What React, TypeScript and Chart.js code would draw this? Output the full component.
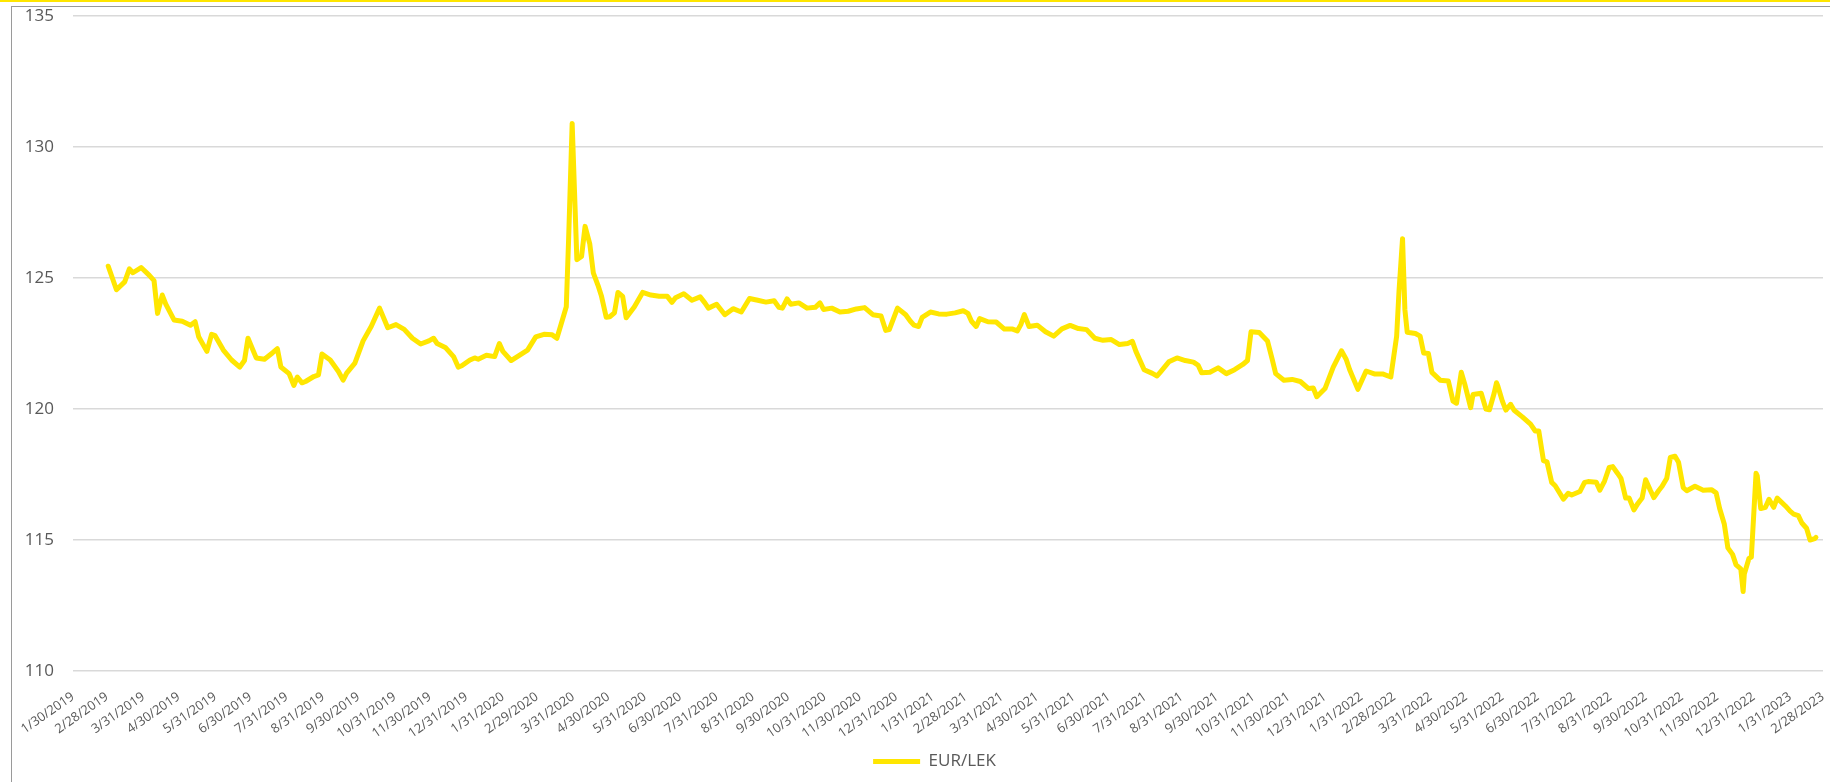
import React, { useEffect, useRef } from "react";
import { Chart, registerables } from "chart.js";

Chart.register(...registerables);

const seriesName = "EUR/LEK";

const tickLabels = [
  "1/30/2019", "2/28/2019", "3/31/2019", "4/30/2019", "5/31/2019", "6/30/2019",
  "7/31/2019", "8/31/2019", "9/30/2019", "10/31/2019", "11/30/2019", "12/31/2019",
  "1/31/2020", "2/29/2020", "3/31/2020", "4/30/2020", "5/31/2020", "6/30/2020",
  "7/31/2020", "8/31/2020", "9/30/2020", "10/31/2020", "11/30/2020", "12/31/2020",
  "1/31/2021", "2/28/2021", "3/31/2021", "4/30/2021", "5/31/2021", "6/30/2021",
  "7/31/2021", "8/31/2021", "9/30/2021", "10/31/2021", "11/30/2021", "12/31/2021",
  "1/31/2022", "2/28/2022", "3/31/2022", "4/30/2022", "5/31/2022", "6/30/2022",
  "7/31/2022", "8/31/2022", "9/30/2022", "10/31/2022", "11/30/2022", "12/31/2022",
  "1/31/2023", "2/28/2023",
];

const yMin = 110;
const yMax = 135;
const yStep = 5;

const dates = [
  "2019-03-01", "2019-03-08", "2019-03-15", "2019-03-19", "2019-03-22", "2019-03-29",
  "2019-04-05", "2019-04-09", "2019-04-12", "2019-04-16", "2019-04-19", "2019-04-26",
  "2019-05-03", "2019-05-10", "2019-05-14", "2019-05-17", "2019-05-24", "2019-05-28",
  "2019-05-31", "2019-06-07", "2019-06-14", "2019-06-21", "2019-06-25", "2019-06-28",
  "2019-07-05", "2019-07-12", "2019-07-19", "2019-07-23", "2019-07-26", "2019-08-02",
  "2019-08-06", "2019-08-09", "2019-08-13", "2019-08-16", "2019-08-23", "2019-08-27",
  "2019-08-30", "2019-09-06", "2019-09-13", "2019-09-17", "2019-09-20", "2019-09-27",
  "2019-10-04", "2019-10-11", "2019-10-18", "2019-10-25", "2019-11-01", "2019-11-08",
  "2019-11-15", "2019-11-22", "2019-11-29", "2019-12-03", "2019-12-06", "2019-12-13",
  "2019-12-20", "2019-12-24", "2019-12-27", "2020-01-03", "2020-01-07", "2020-01-10",
  "2020-01-17", "2020-01-24", "2020-01-28", "2020-01-31", "2020-02-07", "2020-02-14",
  "2020-02-21", "2020-02-28", "2020-03-06", "2020-03-13", "2020-03-17", "2020-03-20",
  "2020-03-25", "2020-03-27", "2020-03-30", "2020-04-01", "2020-04-03", "2020-04-07",
  "2020-04-10", "2020-04-14", "2020-04-17", "2020-04-21", "2020-04-24", "2020-04-28",
  "2020-05-01", "2020-05-05", "2020-05-08", "2020-05-12", "2020-05-15", "2020-05-22",
  "2020-05-29", "2020-06-05", "2020-06-12", "2020-06-19", "2020-06-23", "2020-06-26",
  "2020-07-03", "2020-07-10", "2020-07-17", "2020-07-21", "2020-07-24", "2020-07-31",
  "2020-08-07", "2020-08-14", "2020-08-21", "2020-08-28", "2020-09-04", "2020-09-11",
  "2020-09-18", "2020-09-22", "2020-09-25", "2020-09-29", "2020-10-02", "2020-10-09",
  "2020-10-16", "2020-10-23", "2020-10-27", "2020-10-30", "2020-11-06", "2020-11-13",
  "2020-11-20", "2020-11-27", "2020-12-04", "2020-12-11", "2020-12-18", "2020-12-22",
  "2020-12-25", "2021-01-01", "2021-01-08", "2021-01-12", "2021-01-15", "2021-01-19",
  "2021-01-22", "2021-01-29", "2021-02-05", "2021-02-12", "2021-02-19", "2021-02-26",
  "2021-03-02", "2021-03-05", "2021-03-09", "2021-03-12", "2021-03-19", "2021-03-26",
  "2021-04-02", "2021-04-09", "2021-04-13", "2021-04-16", "2021-04-19", "2021-04-23",
  "2021-04-30", "2021-05-07", "2021-05-14", "2021-05-21", "2021-05-28", "2021-06-04",
  "2021-06-11", "2021-06-18", "2021-06-25", "2021-07-02", "2021-07-09", "2021-07-16",
  "2021-07-20", "2021-07-23", "2021-07-30", "2021-08-06", "2021-08-10", "2021-08-13",
  "2021-08-20", "2021-08-27", "2021-09-03", "2021-09-10", "2021-09-14", "2021-09-17",
  "2021-09-24", "2021-10-01", "2021-10-08", "2021-10-15", "2021-10-22", "2021-10-26",
  "2021-10-29", "2021-11-05", "2021-11-12", "2021-11-16", "2021-11-19", "2021-11-26",
  "2021-12-03", "2021-12-10", "2021-12-17", "2021-12-21", "2021-12-24", "2021-12-31",
  "2022-01-07", "2022-01-14", "2022-01-18", "2022-01-21", "2022-01-28", "2022-02-04",
  "2022-02-11", "2022-02-18", "2022-02-25", "2022-03-02", "2022-03-04", "2022-03-07",
  "2022-03-09", "2022-03-11", "2022-03-18", "2022-03-22", "2022-03-25", "2022-03-29",
  "2022-04-01", "2022-04-08", "2022-04-15", "2022-04-19", "2022-04-22", "2022-04-26",
  "2022-04-29", "2022-05-04", "2022-05-06", "2022-05-13", "2022-05-17", "2022-05-20",
  "2022-05-24", "2022-05-26", "2022-05-27", "2022-05-31", "2022-06-03", "2022-06-07",
  "2022-06-10", "2022-06-17", "2022-06-24", "2022-06-28", "2022-07-01", "2022-07-05",
  "2022-07-08", "2022-07-12", "2022-07-15", "2022-07-22", "2022-07-26", "2022-07-29",
  "2022-08-05", "2022-08-09", "2022-08-12", "2022-08-19", "2022-08-22", "2022-08-26",
  "2022-08-30", "2022-09-02", "2022-09-06", "2022-09-09", "2022-09-13", "2022-09-16",
  "2022-09-20", "2022-09-23", "2022-09-27", "2022-09-30", "2022-10-04", "2022-10-07",
  "2022-10-11", "2022-10-14", "2022-10-18", "2022-10-21", "2022-10-25", "2022-10-28",
  "2022-11-01", "2022-11-04", "2022-11-11", "2022-11-18", "2022-11-25", "2022-11-29",
  "2022-12-02", "2022-12-06", "2022-12-09", "2022-12-13", "2022-12-16", "2022-12-20",
  "2022-12-22", "2022-12-23", "2022-12-27", "2022-12-29", "2023-01-02", "2023-01-03",
  "2023-01-06", "2023-01-10", "2023-01-13", "2023-01-17", "2023-01-20", "2023-01-27",
  "2023-01-31", "2023-02-03", "2023-02-07", "2023-02-10", "2023-02-14", "2023-02-17",
  "2023-02-21", "2023-02-22",
];

const eurLek = [
  125.45, 124.55, 124.85, 125.35, 125.2, 125.4,
  125.1, 124.9, 123.65, 124.35, 124.0, 123.4,
  123.35, 123.2, 123.33, 122.76, 122.2, 122.85,
  122.8, 122.25, 121.87, 121.6, 121.85, 122.7,
  121.95, 121.9, 122.15, 122.3, 121.6, 121.35,
  120.9, 121.22, 121.0, 121.05, 121.24, 121.3,
  122.1, 121.87, 121.43, 121.1, 121.37, 121.75,
  122.6, 123.16, 123.85, 123.1, 123.22, 123.04,
  122.7, 122.48, 122.6, 122.7, 122.5, 122.35,
  122.0, 121.6, 121.65, 121.87, 121.95, 121.9,
  122.05, 122.0, 122.5, 122.2, 121.85, 122.05,
  122.25, 122.75, 122.85, 122.83, 122.7, 123.15,
  123.9, 126.5, 130.9, 128.3, 125.7, 125.82,
  126.97, 126.3, 125.2, 124.72, 124.3, 123.5,
  123.52, 123.67, 124.45, 124.3, 123.48, 123.9,
  124.45, 124.35, 124.3, 124.3, 124.07, 124.25,
  124.4, 124.15, 124.28, 124.05, 123.85, 124.0,
  123.6, 123.83, 123.7, 124.22, 124.15, 124.08,
  124.13, 123.88, 123.85, 124.2, 124.0, 124.05,
  123.85, 123.88, 124.05, 123.8, 123.85, 123.7,
  123.73, 123.82, 123.87, 123.6, 123.55, 123.0,
  123.03, 123.85, 123.6, 123.35, 123.2, 123.15,
  123.5, 123.7, 123.63, 123.62, 123.67, 123.75,
  123.65, 123.35, 123.15, 123.45, 123.33, 123.32,
  123.05, 123.05, 122.98, 123.22, 123.6, 123.15,
  123.2, 122.95, 122.78, 123.06, 123.19, 123.07,
  123.03, 122.7, 122.62, 122.65, 122.46, 122.5,
  122.58, 122.2, 121.5, 121.36, 121.26, 121.42,
  121.8, 121.95, 121.85, 121.79, 121.67, 121.38,
  121.4, 121.57, 121.35, 121.5, 121.7, 121.85,
  122.95, 122.92, 122.6, 121.9, 121.35, 121.1,
  121.13, 121.05, 120.78, 120.8, 120.47, 120.78,
  121.6, 122.22, 121.9, 121.5, 120.75, 121.45,
  121.34, 121.34, 121.22, 122.78, 124.5, 126.5,
  123.8, 122.93, 122.88, 122.78, 122.14, 122.12,
  121.4, 121.1, 121.07, 120.3, 120.22, 121.4,
  120.95, 120.05, 120.55, 120.6, 120.0, 119.97,
  120.6, 121.0, 120.9, 120.3, 119.96, 120.18,
  119.95, 119.7, 119.42, 119.16, 119.16, 118.03,
  117.98, 117.2, 117.07, 116.56, 116.78, 116.72,
  116.85, 117.2, 117.23, 117.2, 116.9, 117.25,
  117.77, 117.8, 117.55, 117.35, 116.6, 116.6,
  116.15, 116.37, 116.6, 117.3, 116.9, 116.62,
  116.88, 117.05, 117.36, 118.15, 118.2, 117.97,
  117.0, 116.88, 117.05, 116.9, 116.92, 116.8,
  116.2, 115.6, 114.7, 114.45, 114.05, 113.9,
  113.03, 113.7, 114.3, 114.35, 117.55, 117.45,
  116.2, 116.25, 116.55, 116.25, 116.6, 116.3,
  116.1, 115.99, 115.93, 115.65, 115.45, 115.0,
  115.05, 115.1,
];

const DAY_MS = 86400000;
const isoToDay = (s: string) => {
  const [y, m, d] = s.split("-").map(Number);
  return Date.UTC(y, m - 1, d) / DAY_MS;
};
const labelToDay = (s: string) => {
  const [m, d, y] = s.split("/").map(Number);
  return Date.UTC(y, m - 1, d) / DAY_MS;
};

const TEXT_COLOR = "#595959";
const FONT = "'Open Sans', 'DejaVu Sans', sans-serif";

// shifts the centred legend so it sits centred on the outer chart frame, as in the original
const legendShift = {
  id: "legendShift",
  afterLayout(chart: any) {
    const lg = chart.legend;
    if (lg) {
      lg.left = 46;
    }
  },
};

export default function App() {
  const canvasRef = useRef<HTMLCanvasElement | null>(null);

  useEffect(() => {
    const canvas = canvasRef.current;
    if (!canvas) return;
    const origin = labelToDay(tickLabels[0]);
    const tickDays = tickLabels.map((l) => labelToDay(l) - origin);
    const points = dates.map((d, i) => ({ x: isoToDay(d) - origin, y: eurLek[i] }));

    const chart = new Chart(canvas, {
      type: "line",
      data: {
        datasets: [
          {
            label: seriesName,
            data: points,
            borderColor: "#FFE600",
            backgroundColor: "#FFE600",
            borderWidth: 5,
            pointRadius: 0,
            pointHoverRadius: 0,
            tension: 0,
            fill: false,
            borderJoinStyle: "round",
            borderCapStyle: "round",
          },
        ],
      },
      plugins: [legendShift],
      options: {
        animation: false,
        responsive: false,
        devicePixelRatio: 1,
        layout: { padding: { left: 0, right: 7, top: 16, bottom: 2 } },
        plugins: {
          tooltip: { enabled: false },
          legend: {
            display: true,
            position: "bottom",
            labels: {
              usePointStyle: true,
              pointStyle: "line",
              pointStyleWidth: 47,
              color: TEXT_COLOR,
              padding: 10,
              font: { family: FONT, size: 17 },
            },
          },
        },
        scales: {
          x: {
            type: "linear",
            min: tickDays[0],
            max: tickDays[tickDays.length - 1],
            grid: { display: false },
            border: { display: false },
            afterBuildTicks: (scale: any) => {
              scale.ticks = tickDays.map((v) => ({ value: v }));
            },
            afterFit: (scale: any) => {
              scale.height = 72;
              scale.paddingLeft = 0;
              scale.paddingRight = 0;
            },
            ticks: {
              autoSkip: false,
              minRotation: 35,
              maxRotation: 35,
              padding: 10,
              color: TEXT_COLOR,
              font: { family: FONT, size: 13 },
              callback: (_v: any, i: number) => tickLabels[i],
            },
          },
          y: {
            type: "linear",
            min: yMin,
            max: yMax,
            grid: { color: "#D9D9D9", lineWidth: 1.5, drawTicks: false },
            border: { display: false },
            afterFit: (scale: any) => {
              scale.width = 73;
              scale.paddingTop = 0;
              scale.paddingBottom = 0;
            },
            ticks: {
              stepSize: yStep,
              padding: 19,
              color: TEXT_COLOR,
              font: { family: FONT, size: 17 },
            },
          },
        },
      },
    } as any);

    return () => chart.destroy();
  }, []);

  return (
    <div
      style={{
        position: "absolute",
        left: 0,
        top: 0,
        width: 1830,
        height: 782,
        background: "#ffffff",
        overflow: "hidden",
      }}
    >
      <div
        style={{
          position: "absolute",
          left: 0,
          top: 0,
          width: 1830,
          height: 2,
          background: "#FFE600",
        }}
      />
      <div
        style={{
          position: "absolute",
          left: 11,
          top: 6,
          width: 1900,
          height: 900,
          borderLeft: "1px solid #9a9a9a",
          borderTop: "1px solid #9a9a9a",
        }}
      />
      <canvas
        ref={canvasRef}
        width={1830}
        height={782}
        style={{ position: "absolute", left: 0, top: 0, width: 1830, height: 782 }}
      />
    </div>
  );
}
